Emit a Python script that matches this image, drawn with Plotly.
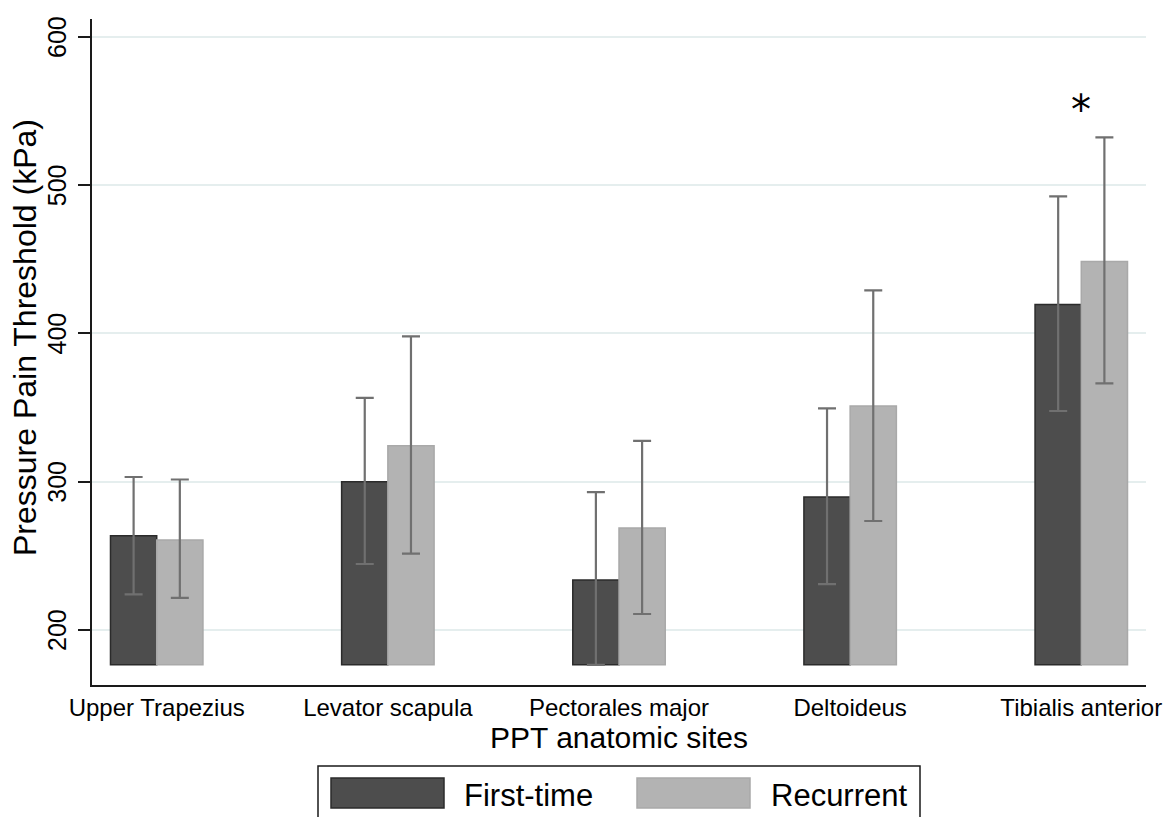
import plotly.graph_objects as go

sites = ["Upper Trapezius", "Levator scapula", "Pectorales major", "Deltoideus", "Tibialis anterior"]
first_mean = [263.5, 300.0, 233.7, 289.7, 419.5]
first_hi = [303.2, 356.5, 293.0, 349.5, 492.5]
first_lo = [224.0, 244.5, 176.5, 231.0, 347.7]
rec_mean = [260.7, 324.3, 268.8, 351.0, 448.5]
rec_hi = [301.5, 398.0, 327.5, 429.0, 532.3]
rec_lo = [221.6, 251.5, 210.8, 273.5, 366.3]
base_value = 176.5
y_ticks = [200, 300, 400, 500, 600]

FONT = "Arial, Liberation Sans, sans-serif"
W, H = 1166, 817
L, R, T, B = 92, 20, 19, 132
PW, PH = W - L - R, H - T - B


def px(x):
    return (x - L) / PW


def py(y):
    return (H - B - y) / PH


fig = go.Figure()

err_style = dict(type="data", symmetric=False, color="#707070", thickness=2.2, width=9)

fig.add_trace(go.Bar(
    x=sites, y=[m - base_value for m in first_mean], base=base_value,
    name="First-time",
    marker=dict(color="#4d4d4d", line=dict(color="#2b2b2b", width=1.5)),
    error_y=dict(array=[h - m for h, m in zip(first_hi, first_mean)],
                 arrayminus=[m - l for m, l in zip(first_mean, first_lo)], **err_style),
))
fig.add_trace(go.Bar(
    x=sites, y=[m - base_value for m in rec_mean], base=base_value,
    name="Recurrent",
    marker=dict(color="#b3b3b3", line=dict(color="#a9a9a9", width=1.5)),
    error_y=dict(array=[h - m for h, m in zip(rec_hi, rec_mean)],
                 arrayminus=[m - l for m, l in zip(rec_mean, rec_lo)], **err_style),
))

fig.update_layout(
    width=W, height=H,
    margin=dict(l=L, r=R, t=T, b=B, autoexpand=False),
    paper_bgcolor="white", plot_bgcolor="white",
    barmode="group", bargap=0.6, bargroupgap=0,
    showlegend=False,
    font=dict(family=FONT, color="black", size=24),
    xaxis=dict(
        range=[-0.28, 4.28],
        showline=True, linecolor="#1a1a1a", linewidth=2,
        ticks="", showgrid=False,
        tickfont=dict(size=24, family=FONT),
        title=dict(text="PPT anatomic sites", font=dict(size=30, family=FONT), standoff=4),
        automargin=False,
    ),
    yaxis=dict(
        range=[162.9, 612.1],
        tickmode="array", tickvals=y_ticks,
        showticklabels=False,
        showline=True, linecolor="#1a1a1a", linewidth=2,
        ticks="outside", ticklen=12, tickwidth=1.5, tickcolor="#1a1a1a",
        showgrid=True, gridcolor="#e5eeee", gridwidth=1.5,
        zeroline=False,
        automargin=False,
    ),
)

# rotated y tick labels
for v in y_ticks:
    fig.add_annotation(x=px(57), y=v, xref="paper", yref="y", text=str(v), textangle=-90,
                       showarrow=False, xanchor="center", yanchor="middle",
                       font=dict(size=25, family=FONT, color="black"))

# y axis title
fig.add_annotation(x=px(25), y=py(338), xref="paper", yref="paper",
                   text="Pressure Pain Threshold (kPa)", textangle=-90,
                   showarrow=False, xanchor="center", yanchor="middle",
                   font=dict(size=32, family=FONT, color="black"))

# significance marker
fig.add_annotation(x=sites[4], y=551, text="*", showarrow=False,
                   font=dict(size=40, family="DejaVu Sans", color="black"), xref="x", yref="y")

# custom legend box
shapes = [
    dict(type="rect", xref="paper", yref="paper", x0=px(318), x1=px(920), y0=py(840), y1=py(766),
         line=dict(color="#1a1a1a", width=1.5), fillcolor="white", layer="above"),
    dict(type="rect", xref="paper", yref="paper", x0=px(331), x1=px(444), y0=py(808), y1=py(778),
         line=dict(color="#2b2b2b", width=1.5), fillcolor="#4d4d4d"),
    dict(type="rect", xref="paper", yref="paper", x0=px(637), x1=px(750), y0=py(808), y1=py(778),
         line=dict(color="#a9a9a9", width=1.5), fillcolor="#b3b3b3"),
]
for s in shapes:
    fig.add_shape(**s)
fig.add_annotation(x=px(462), y=py(795), xref="paper", yref="paper", text="First-time",
                   showarrow=False, xanchor="left", yanchor="middle",
                   font=dict(size=31, family=FONT, color="black"))
fig.add_annotation(x=px(769), y=py(795), xref="paper", yref="paper", text="Recurrent",
                   showarrow=False, xanchor="left", yanchor="middle",
                   font=dict(size=31, family=FONT, color="black"))

fig.write_html(
    "out.html",
    config={"displayModeBar": False},
    post_script="document.body.style.margin='0';document.body.style.overflow='hidden';",
)
